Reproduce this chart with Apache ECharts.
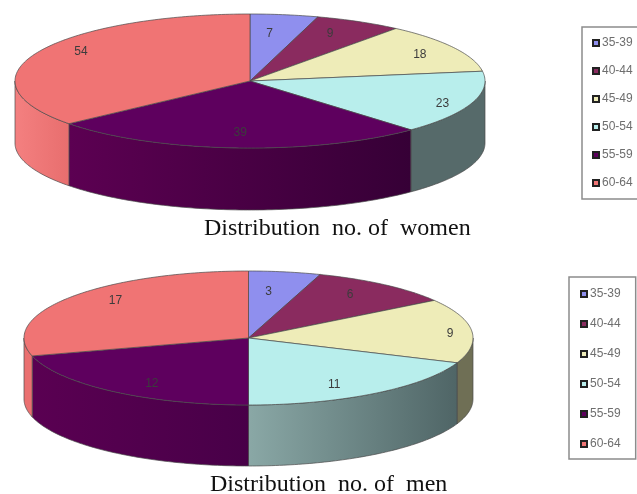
<!DOCTYPE html>
<html>
<head>
<meta charset="utf-8">
<style>html,body{margin:0;padding:0;background:#fff}#chart{width:637px;height:494px}</style>
<script src="https://cdn.jsdelivr.net/npm/echarts@6/dist/echarts.min.js"></script>
</head>
<body>
<div id="chart"></div>
<script>
var ageGroups = ['35-39', '40-44', '45-49', '50-54', '55-59', '60-64'];
var womenCounts = [7, 9, 18, 23, 39, 54];
var menCounts = [3, 6, 9, 11, 12, 17];

var topColors = ['#8f8fee', '#8a2b5f', '#eeecb8', '#b8eeec', '#5e005e', '#f07474'];
var womenWalls = [['#666'], ['#666'], ['#666'], ['#566a6a', '#566a6a'], ['#5c0052', '#360036'], ['#f48080', '#e86e6e']];
var menWalls = [['#666'], ['#666'], ['#6f6f55', '#6f6f55'], ['#8aa8a6', '#4f6566'], ['#5a0052', '#480048'], ['#ea7070', '#ea7070']];

// where the numbers sit, relative to 0.8 of the radius
var womenNudge = [[-8, 6], [-7, 0], [7, 0], [15, 5], [2, -2], [1, -6]];
var menNudge = [[-9, 7], [-7, -1], [23, 1], [-15, 2], [12, 3], [10, -5]];

var womenPie = { cx: 250, cy: 81, rx: 235, ry: 67, depth: 62, walls: womenWalls, nudge: womenNudge, counts: womenCounts };
var menPie = { cx: 248.5, cy: 338, rx: 224.5, ry: 67, depth: 61, walls: menWalls, nudge: menNudge, counts: menCounts };

function rimPoint(pie, deg, drop) {
  var a = deg * Math.PI / 180;
  return [pie.cx + pie.rx * Math.sin(a), pie.cy - pie.ry * Math.cos(a) + drop];
}

function arcPoints(pie, from, to, drop) {
  var pts = [];
  var steps = Math.max(2, Math.ceil(Math.abs(to - from)));
  for (var i = 0; i <= steps; i++) {
    pts.push(rimPoint(pie, from + (to - from) * i / steps, drop));
  }
  return pts;
}

function makeSlice(pie, idx) {
  return function(params, api) {
    var value = api.value(0);
    var before = api.value(1);
    var total = api.value(2);
    var start = before / total * 360;
    var end = (before + value) / total * 360;
    var children = [];

    // only the part of the rim between 90 and 270 degrees faces the viewer
    var wallFrom = Math.max(start, 90);
    var wallTo = Math.min(end, 270);
    if (wallTo > wallFrom) {
      var wallPts = arcPoints(pie, wallFrom, wallTo, 0).concat(arcPoints(pie, wallTo, wallFrom, pie.depth));
      var stops = pie.walls[idx];
      children.push({
        type: 'polygon',
        shape: { points: wallPts },
        style: {
          fill: new echarts.graphic.LinearGradient(0, 0, 1, 0, [
            { offset: 0, color: stops[0] },
            { offset: 1, color: stops[1] }
          ]),
          stroke: '#4a4a4a',
          lineWidth: 0.7
        }
      });
    }

    children.push({
      type: 'polygon',
      shape: { points: [[pie.cx, pie.cy]].concat(arcPoints(pie, start, end, 0)) },
      style: { fill: topColors[idx], stroke: '#4a4a4a', lineWidth: 0.7 }
    });

    var mid = rimPoint({ cx: pie.cx, cy: pie.cy, rx: pie.rx * 0.8, ry: pie.ry * 0.8 }, (start + end) / 2, 0);
    children.push({
      type: 'text',
      style: {
        x: mid[0] + pie.nudge[idx][0],
        y: mid[1] + pie.nudge[idx][1],
        text: String(value),
        fill: '#3c3c3c',
        font: '12px "Liberation Sans", Arial, sans-serif',
        align: 'center',
        verticalAlign: 'middle'
      }
    });
    return { type: 'group', children: children };
  };
}

function pieSeries(pie) {
  var total = pie.counts.reduce(function(a, b) { return a + b; }, 0);
  var before = 0;
  return pie.counts.map(function(v, i) {
    var s = {
      type: 'custom',
      name: ageGroups[i],
      coordinateSystem: 'none',
      silent: true,
      animation: false,
      itemStyle: { color: topColors[i] },
      data: [[v, before, total]],
      renderItem: makeSlice(pie, i)
    };
    before += v;
    return s;
  });
}

function legendBox(left, top, gap, padding) {
  return {
    orient: 'vertical',
    left: left,
    top: top,
    data: ageGroups,
    selectedMode: false,
    icon: 'rect',
    itemWidth: 6,
    itemHeight: 6,
    itemGap: gap,
    padding: padding,
    borderColor: '#8c8c8c',
    borderWidth: 1.5,
    backgroundColor: '#fff',
    itemStyle: { borderColor: '#222', borderWidth: 2 },
    textStyle: {
      color: '#6e6e6e',
      fontSize: 12,
      padding: [0, 0, 0, -2],
      fontFamily: '"Liberation Sans", Arial, sans-serif'
    }
  };
}

var chart = echarts.init(document.getElementById('chart'), null, { renderer: 'canvas' });
chart.setOption({
  backgroundColor: '#fff',
  animation: false,
  title: [
    {
      text: 'Distribution  no. of  women',
      left: 204,
      top: 217,
      padding: 0,
      textStyle: { fontFamily: '"Liberation Serif", "Times New Roman", serif', fontWeight: 'normal', fontSize: 24, color: '#111' }
    },
    {
      text: 'Distribution  no. of  men',
      left: 210,
      top: 473,
      padding: 0,
      textStyle: { fontFamily: '"Liberation Serif", "Times New Roman", serif', fontWeight: 'normal', fontSize: 24, color: '#111' }
    }
  ],
  legend: [
    legendBox(582, 27, 16, [10, 20, 10, 10]),
    legendBox(569, 277, 18, [11, 15, 9, 11])
  ],
  series: pieSeries(womenPie).concat(pieSeries(menPie))
});
</script>
</body>
</html>
